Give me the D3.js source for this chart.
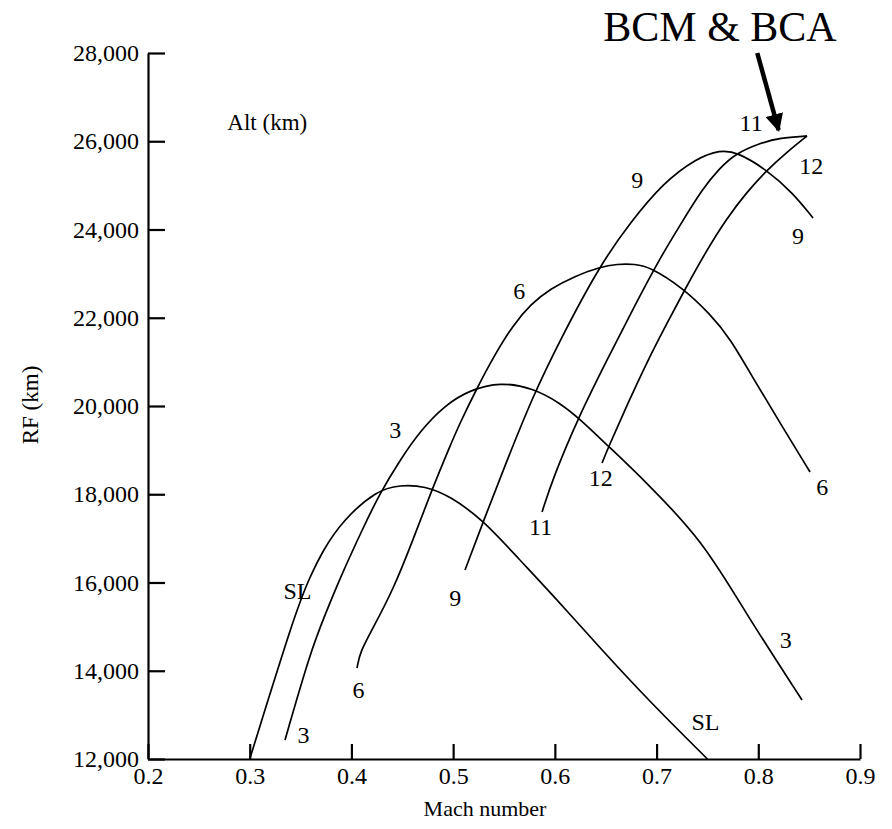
<!DOCTYPE html>
<html>
<head>
<meta charset="utf-8">
<script src="https://cdn.jsdelivr.net/npm/d3@7"></script>
<style>
  body { margin: 0; background: #fff; }
  text { font-family: "Liberation Serif", "Times New Roman", serif; fill: #000; }
</style>
</head>
<body>
<div id="chart"></div>
<script>
// range factor RF (km) against Mach number, one curve per altitude (km)
const curveSL = [[0.300,12000],[0.3465,15445],[0.3593,16125],[0.3721,16737],[0.3918,17416],[0.4251,18096],
  [0.4478,18210],[0.4723,18187],[0.4969,17960],[0.5294,17416],[0.5628,16578],[0.6051,15535],
  [0.6444,14516],[0.6936,13292],[0.750,12000]];
const curve3 = [[0.3347,12431],[0.3593,14402],[0.3740,15263],[0.3888,16102],[0.4114,17235],[0.4281,18028],
  [0.4478,18776],[0.4675,19433],[0.4920,20023],[0.5166,20363],[0.5461,20544],[0.5785,20408],
  [0.6051,20068],[0.6247,19705],[0.6523,19094],[0.6867,18346],[0.7457,16941],[0.7850,15399],
  [0.8430,13337]];
const curve6 = [[0.4055,14062],[0.4084,14425],[0.4212,14969],[0.4409,15830],[0.4605,16963],[0.4782,18051],
  [0.4969,19094],[0.5067,19615],[0.5235,20408],[0.5402,21133],[0.5589,21836],[0.5766,22312],
  [0.5953,22652],[0.6198,22946],[0.6444,23150],[0.6611,23218],[0.6788,23218],[0.6935,23150],
  [0.7260,22674],[0.7525,22085],[0.7722,21541],[0.7948,20635],[0.8214,19615],[0.8509,18504]];
const curve9 = [[0.5117,16283],[0.5294,17371],[0.5539,18822],[0.5785,20227],[0.6051,21496],[0.6444,23196],
  [0.6739,24148],[0.7063,25054],[0.7398,25621],[0.7624,25802],[0.7791,25757],[0.8086,25348],
  [0.8341,24827],[0.8538,24261]];
const curve11 = [[0.5874,17598],[0.5982,18368],[0.6228,19728],[0.6513,21043],[0.6788,22289],[0.7034,23354],
  [0.7250,24170],[0.7457,24941],[0.7624,25396],[0.7771,25713],[0.8017,25960],[0.8214,26075],
  [0.8479,26120]];
const curve12 = [[0.6464,18708],[0.6523,19048],[0.6719,20068],[0.6906,20997],[0.7083,21790],[0.7260,22561],
  [0.7476,23467],[0.7692,24261],[0.7889,24850],[0.8086,25348],[0.8283,25756],[0.8479,26119]];

const curves = [curveSL, curve3, curve6, curve9, curve11, curve12];

// altitude labels placed along the curves
const labels = [
  ["SL", 0.347, 15810], ["SL", 0.748, 12840],
  ["3", 0.353, 12545], ["3", 0.443, 19455], ["3", 0.827, 14700],
  ["6", 0.407, 13565], ["6", 0.565, 22605], ["6", 0.863, 18165],
  ["9", 0.502, 15650], ["9", 0.681, 25120], ["9", 0.839, 23850],
  ["11", 0.586, 17255], ["11", 0.793, 26410],
  ["12", 0.645, 18365], ["12", 0.852, 25440]
];

const xTicks = [0.2, 0.3, 0.4, 0.5, 0.6, 0.7, 0.8, 0.9];
const yTicks = [12000, 14000, 16000, 18000, 20000, 22000, 24000, 26000, 28000];

const width = 892;
const height = 829;

const svg = d3.select("#chart")
    .append("svg")
    .attr("width", width)
    .attr("height", height);

const xScale = d3.scaleLinear()
    .domain([0.2, 0.9])
    .range([148, 860]);

const yScale = d3.scaleLinear()
    .domain([12000, 28000])
    .range([759, 53]);

// axes, ticks pointing into the plot
const xAxis = svg.append("g")
    .attr("transform", `translate(0,${yScale(12000)})`)
    .call(d3.axisBottom(xScale).tickValues(xTicks).tickFormat(d3.format(".1f"))
      .tickSizeInner(-15).tickSizeOuter(0).tickPadding(8));

const yAxis = svg.append("g")
    .attr("transform", `translate(${xScale(0.2)},0)`)
    .call(d3.axisLeft(yScale).tickValues(yTicks).tickFormat(d3.format(","))
      .tickSizeInner(-17).tickSizeOuter(0).tickPadding(9));

[xAxis, yAxis].forEach(g => {
  g.select(".domain").attr("stroke", "#000").attr("stroke-width", 2.2);
  g.selectAll(".tick line").attr("stroke", "#000").attr("stroke-width", 2.2);
  g.selectAll(".tick text").attr("font-size", 24).attr("font-family", "Liberation Serif");
});

// basis smoothing irons out small reading errors in the traced points
const line = d3.line()
    .x(d => xScale(d[0]))
    .y(d => yScale(d[1]))
    .curve(d3.curveBasis);

svg.append("g")
  .selectAll("path")
  .data(curves)
  .join("path")
    .attr("d", line)
    .attr("fill", "none")
    .attr("stroke", "#000")
    .attr("stroke-width", 1.7);

svg.append("g")
  .selectAll("text")
  .data(labels)
  .join("text")
    .attr("x", d => xScale(d[1]))
    .attr("y", d => yScale(d[2]))
    .attr("text-anchor", "middle")
    .attr("dominant-baseline", "central")
    .attr("font-size", 24)
    .text(d => d[0]);

svg.append("text")
    .attr("x", xScale(0.278))
    .attr("y", yScale(26430))
    .attr("dominant-baseline", "central")
    .attr("font-size", 23)
    .text("Alt (km)");

// axis titles
svg.append("text")
    .attr("x", 485)
    .attr("y", 808)
    .attr("text-anchor", "middle")
    .attr("dominant-baseline", "central")
    .attr("font-size", 22)
    .text("Mach number");

svg.append("text")
    .attr("transform", "translate(30,405) rotate(-90)")
    .attr("text-anchor", "middle")
    .attr("dominant-baseline", "central")
    .attr("font-size", 23)
    .text("RF (km)");

// BCM & BCA annotation
svg.append("defs").append("marker")
    .attr("id", "head")
    .attr("viewBox", "0 0 10 10")
    .attr("refX", 9).attr("refY", 5)
    .attr("markerWidth", 4).attr("markerHeight", 4)
    .attr("orient", "auto")
  .append("path")
    .attr("d", "M0,0 L10,5 L0,10 z")
    .attr("fill", "#000");

svg.append("line")
    .attr("x1", xScale(0.799)).attr("y1", yScale(28000))
    .attr("x2", xScale(0.820)).attr("y2", yScale(26250))
    .attr("stroke", "#000")
    .attr("stroke-width", 4.5)
    .attr("marker-end", "url(#head)");

svg.append("text")
    .attr("x", 720)
    .attr("y", 27)
    .attr("text-anchor", "middle")
    .attr("dominant-baseline", "central")
    .attr("font-size", 42)
    .text("BCM & BCA");
</script>
</body>
</html>
